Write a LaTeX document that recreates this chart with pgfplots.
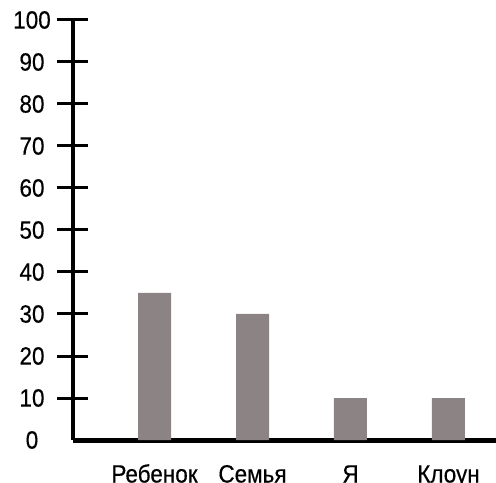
\documentclass[border=0pt]{standalone}
\usepackage{fontspec}
\setmainfont{Liberation Sans}[FakeStretch=0.9, FakeBold=0.4]
\usepackage{pgfplots}
\pgfplotsset{compat=1.18}
\definecolor{barcol}{RGB}{140,131,132}

\begin{document}
\begin{tikzpicture}
\begin{axis}[
    scale only axis,
    width=423bp, height=420bp,
    xmin=-0.832, xmax=3.485,
    ymin=0, ymax=100,
    axis x line=bottom,
    axis y line=left,
    axis line style={-},
    x axis line style={line width=5bp},
    y axis line style={line width=4bp},
    xtick={0,1,2,3},
    xticklabels={Ребенок, Семья, Я, Клоун},
    xtick style={draw=none},
    ytick={10,20,...,100},
    extra y ticks={0},
    extra y tick style={tick style={draw=none}},
    tick align=center,
    major tick length=31bp,
    ytick style={line width=3bp, black},
    /pgf/number format/assume math mode=true,
    ticklabel style={font=\fontsize{25bp}{30bp}\selectfont},
    yticklabel style={anchor=center, inner sep=0pt, xshift=-25.5bp},
    xticklabel style={anchor=base, inner sep=0pt, yshift=-27bp},
    clip=false,
]
\addplot[ybar, bar width=33bp, fill=barcol, draw=none]
    coordinates {(0,35) (1,30) (2,10) (3,10)};
\end{axis}
\pgfresetboundingbox
\path (-73bp,-43bp) rectangle (423bp,440bp);
\end{tikzpicture}
\end{document}
